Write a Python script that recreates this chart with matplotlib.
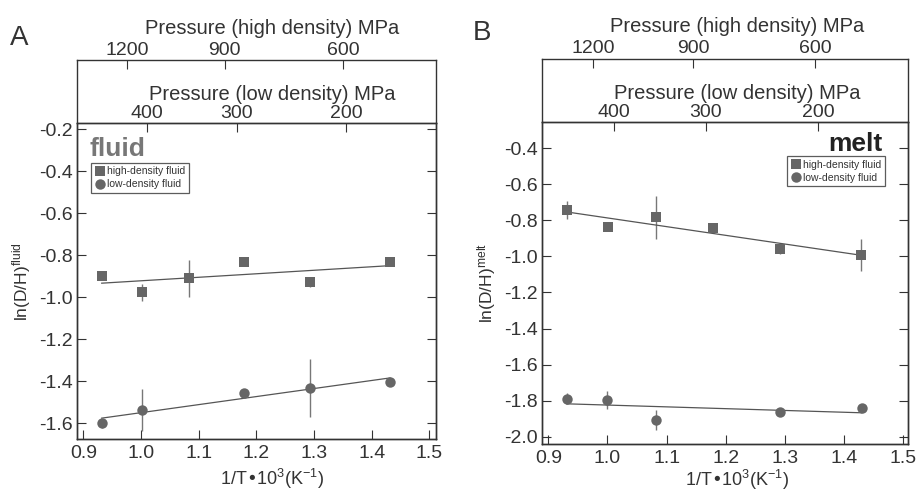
"""Fractionation of D/H between fluid/melt versus 1/T, two panels with pressure axes on top."""

import matplotlib
matplotlib.use("Agg")
import matplotlib.pyplot as plt
import numpy as np

plt.rcParams["font.family"] = ["Liberation Sans", "DejaVu Sans"]
plt.rcParams["mathtext.default"] = "regular"
plt.rcParams["axes.unicode_minus"] = False

# --- data ---
# panel A: fluid
a_hd_x = [0.932, 1.002, 1.083, 1.179, 1.293, 1.432]
a_hd_y = [-0.898, -0.977, -0.910, -0.830, -0.929, -0.830]
a_hd_err = [0.02, 0.04, 0.09, 0.02, 0.02, 0.02]
a_ld_x = [0.932, 1.002, 1.179, 1.293, 1.432]
a_ld_y = [-1.600, -1.537, -1.455, -1.430, -1.403]
a_ld_err = [0.02, 0.10, 0.02, 0.138, 0.02]

# panel B: melt
b_hd_x = [0.931, 1.001, 1.082, 1.178, 1.291, 1.429]
b_hd_y = [-0.744, -0.839, -0.784, -0.845, -0.958, -0.991]
b_hd_err = [0.05, 0.02, 0.12, 0.02, 0.03, 0.09]
b_ld_x = [0.931, 1.000, 1.082, 1.292, 1.430]
b_ld_y = [-1.789, -1.794, -1.907, -1.861, -1.843]
b_ld_err = [0.03, 0.05, 0.055, 0.02, 0.02]

# pressure scales on top (tick labels and their 1/T positions)
p_high_labels = ["1200", "900", "600"]
p_high_pos = [0.976, 1.145, 1.351]
p_low_labels = ["400", "300", "200"]
p_low_pos = [1.011, 1.166, 1.356]

x_ticks = [0.9, 1.0, 1.1, 1.2, 1.3, 1.4, 1.5]
a_yticks = [-1.6, -1.4, -1.2, -1.0, -0.8, -0.6, -0.4, -0.2]
b_yticks = [-2.0, -1.8, -1.6, -1.4, -1.2, -1.0, -0.8, -0.6, -0.4]

MARK = "#666666"
LINE = "#555555"
TXT = "#333333"
SPINE = "#333333"


def style_axes(ax):
    for s in ax.spines.values():
        s.set_color(SPINE)
        s.set_linewidth(1.0)
    ax.tick_params(direction="in", length=6.5, width=0.8, colors=SPINE,
                   labelcolor=TXT, labelsize=14, pad=3)


def draw_panel(fig, main_rect, top_rect, xlim, ylim, yticks, series, ylabel,
               tag, tag_xy, label_text, label_xy, label_ha, label_color,
               leg_loc, leg_anchor, xlabel_x, xlabel_y):
    ax = fig.add_axes(main_rect)
    style_axes(ax)
    ax.set_xlim(*xlim)
    ax.set_ylim(*ylim)
    ax.set_xticks(x_ticks)
    ax.set_xticklabels([f"{t:.1f}" for t in x_ticks])
    ax.set_yticks(yticks)
    ax.set_yticklabels([f"{t:.1f}" for t in yticks])
    ax.tick_params(right=True, top=False, left=True, bottom=True)
    ax.tick_params(axis="x", pad=4)

    handles = []
    for xs, ys, err, marker, name in series:
        ax.errorbar(xs, ys, yerr=err, fmt="none", ecolor="#777777", elinewidth=1.0,
                    capsize=0, zorder=2)
        h, = ax.plot(xs, ys, linestyle="none", marker=marker, markersize=7.5,
                     color=MARK, markeredgewidth=0, zorder=3, label=name)
        handles.append(h)
        coef = np.polyfit(xs, ys, 1)
        xx = np.array([min(xs), max(xs)])
        ax.plot(xx, np.polyval(coef, xx), color=LINE, linewidth=0.9, zorder=2)

    ax.set_xlabel(r"1/T•10$^{3}$(K$^{-1}$)", fontsize=13, color=TXT)
    ax.xaxis.set_label_coords(xlabel_x, xlabel_y)
    ax.set_ylabel(ylabel, fontsize=12.5, color=TXT, labelpad=4)

    leg = ax.legend(handles=handles, loc=leg_loc, bbox_to_anchor=leg_anchor,
                    fontsize=7.5, frameon=True, fancybox=False, handlelength=1.0,
                    handletextpad=0.15, borderpad=0.35, labelspacing=0.3,
                    borderaxespad=0, markerscale=1.0)
    leg.get_frame().set_edgecolor(SPINE)
    leg.get_frame().set_linewidth(0.9)
    for t in leg.get_texts():
        t.set_color(TXT)

    ax.text(label_xy[0], label_xy[1], label_text, transform=ax.transAxes,
            fontsize=19, fontweight="bold", color=label_color, ha=label_ha,
            va="baseline")

    # high-density pressure scale in a box above
    ax_top = fig.add_axes(top_rect)
    ax_top.set_facecolor("none")
    style_axes(ax_top)
    ax_top.set_xlim(*xlim)
    ax_top.set_yticks([])
    ax_top.set_xticks(p_high_pos)
    ax_top.set_xticklabels(p_high_labels)
    ax_top.tick_params(axis="x", top=True, bottom=False, labeltop=True,
                       labelbottom=False, pad=1)
    ax_top.spines["bottom"].set_visible(False)
    ax_top.set_xlabel("Pressure (high density) MPa", fontsize=14.5, color=TXT)
    ax_top.xaxis.set_label_position("top")
    ax_top.xaxis.set_label_coords(xlabel_x, 1.42)

    # low-density pressure scale on the top spine of the main axes
    ax_low = ax.twiny()
    ax_low.set_xlim(*xlim)
    ax_low.set_xticks(p_low_pos)
    ax_low.set_xticklabels(p_low_labels)
    style_axes(ax_low)
    ax_low.tick_params(axis="x", top=True, bottom=False, labeltop=True, pad=1)
    ax_low.set_xlabel("Pressure (low density) MPa", fontsize=14.5, color=TXT)
    ax_low.xaxis.set_label_coords(xlabel_x, 1.072)
    ax_low.set_zorder(ax_top.get_zorder() + 1)
    ax_low.patch.set_visible(False)

    fig.text(tag_xy[0], tag_xy[1], tag, fontsize=20, color=TXT, va="baseline")
    return ax


W, H = 919, 491
fig = plt.figure(figsize=(W / 100, H / 100), dpi=100)

draw_panel(
    fig,
    main_rect=[76.7 / W, (H - 439.3) / H, (436 - 76.7) / W, (439.3 - 123) / H],
    top_rect=[76.7 / W, (H - 123) / H, (436 - 76.7) / W, (123 - 60) / H],
    xlim=(0.8886, 1.5116), ylim=(-1.676, -0.17), yticks=a_yticks,
    series=[(a_hd_x, a_hd_y, a_hd_err, "s", "high-density fluid"),
            (a_ld_x, a_ld_y, a_ld_err, "o", "low-density fluid")],
    ylabel=r"ln(D/H)$^{fluid}$", tag="A", tag_xy=(10 / W, (H - 45) / H),
    label_text="fluid", label_xy=((90 - 76.7) / 359.3, (439.3 - 155.7) / 316.3),
    label_ha="left", label_color="#777777",
    leg_loc="upper left", leg_anchor=((91 - 76.7) / 359.3, (439.3 - 162.7) / 316.3),
    xlabel_x=0.544, xlabel_y=-0.088,
)

draw_panel(
    fig,
    main_rect=[541.7 / W, (H - 444) / H, (908.3 - 541.7) / W, (444 - 122) / H],
    top_rect=[541.7 / W, (H - 122) / H, (908.3 - 541.7) / W, (122 - 58.7) / H],
    xlim=(0.8889, 1.5084), ylim=(-2.04, -0.255), yticks=b_yticks,
    series=[(b_hd_x, b_hd_y, b_hd_err, "s", "high-density fluid"),
            (b_ld_x, b_ld_y, b_ld_err, "o", "low-density fluid")],
    ylabel=r"ln(D/H)$^{melt}$", tag="B", tag_xy=(472.7 / W, (H - 40) / H),
    label_text="melt", label_xy=((883 - 541.7) / 366.6, (444 - 150.7) / 322),
    label_ha="right", label_color="#222222",
    leg_loc="upper right", leg_anchor=((885 - 541.7) / 366.6, (444 - 156) / 322),
    xlabel_x=0.533, xlabel_y=-0.074,
)

fig.savefig("out.png", dpi=100)
